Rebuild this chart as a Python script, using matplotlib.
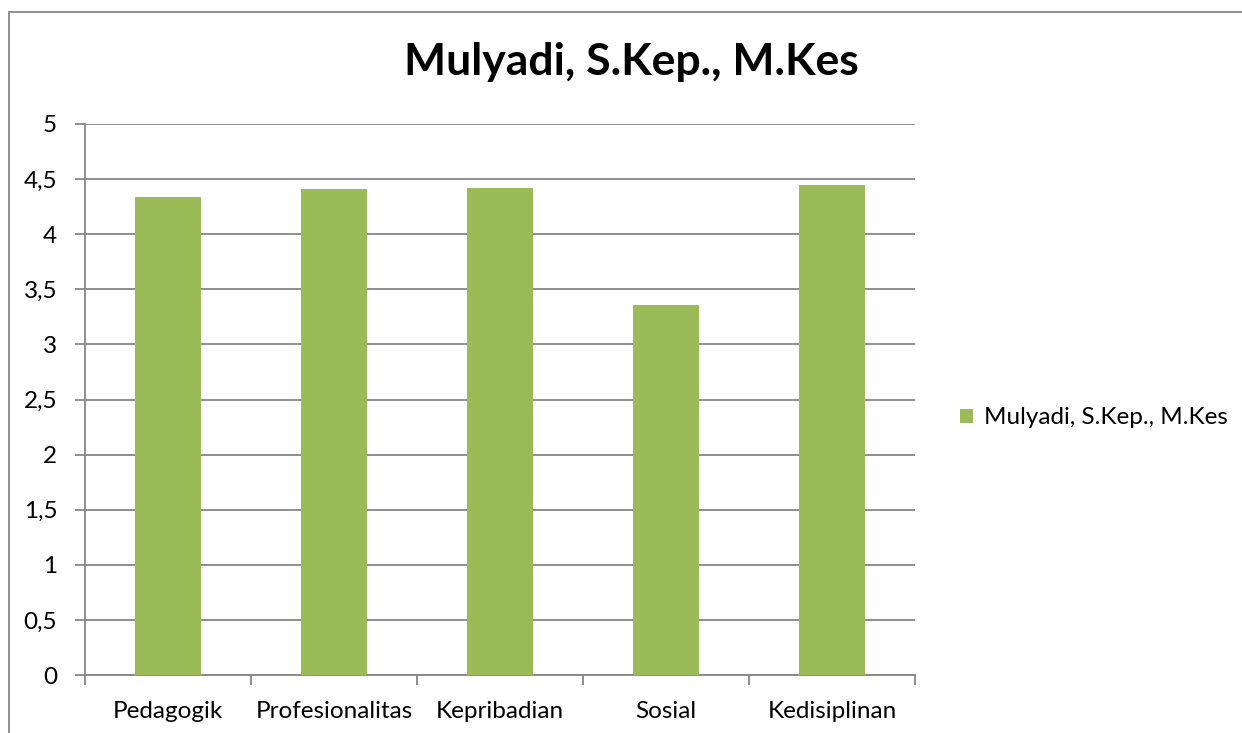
import matplotlib.pyplot as plt
from matplotlib.patches import Rectangle

# data
categories = ['Pedagogik', 'Profesionalitas', 'Kepribadian', 'Sosial', 'Kedisiplinan']
scores = [4.34, 4.41, 4.415, 3.36, 4.445]
series_name = 'Mulyadi, S.Kep., M.Kes'
y_ticks = [0, 0.5, 1, 1.5, 2, 2.5, 3, 3.5, 4, 4.5, 5]
y_tick_labels = ['0', '0,5', '1', '1,5', '2', '2,5', '3', '3,5', '4', '4,5', '5']

BAR_COLOR = '#9BBB59'
GRID_COLOR = '#868686'

plt.rcParams['font.family'] = ['Lato', 'DejaVu Sans']


def main():
    fig = plt.figure(figsize=(12.42, 7.33), dpi=100)
    ax = fig.add_axes([85 / 1242, 58 / 733, 830 / 1242, 551 / 733])

    x = list(range(len(categories)))
    ax.bar(x, scores, width=0.4, color=BAR_COLOR, zorder=3, label=series_name)

    ax.set_xlim(-0.5, len(categories) - 0.5)
    ax.set_ylim(0, 5)
    ax.set_yticks(y_ticks)
    ax.set_yticklabels(y_tick_labels, fontsize=17.5)
    ax.yaxis.grid(True, color=GRID_COLOR, linewidth=1.3, zorder=0)

    # category labels at centers, tick marks at the boundaries
    ax.set_xticks(x)
    ax.set_xticklabels(categories, fontsize=17.5)
    ax.tick_params(axis='x', which='major', length=0, pad=19)
    ax.set_xticks([i - 0.5 for i in range(len(categories) + 1)], minor=True)
    ax.tick_params(axis='x', which='minor', length=7, width=1.3, color=GRID_COLOR, direction='out')
    ax.tick_params(axis='y', length=7, width=1.3, color=GRID_COLOR, direction='out', pad=13)

    for side in ['top', 'right']:
        ax.spines[side].set_visible(False)
    for side in ['left', 'bottom']:
        ax.spines[side].set_color(GRID_COLOR)
        ax.spines[side].set_linewidth(1.3)

    fig.text(0.508, 0.915, series_name, ha='center', va='center',
             fontsize=32, fontweight='bold')

    fig.legend(loc='center left', bbox_to_anchor=(950 / 1242, 1 - 418 / 733),
               frameon=False, fontsize=17.5, handlelength=0.55, handleheight=0.55,
               handletextpad=0.45, borderaxespad=0)

    # outer chart frame
    fig.patches.append(Rectangle((9 / 1242, -0.01), 1.2, 1 - 12 / 733 + 0.01,
                                 transform=fig.transFigure, fill=False,
                                 edgecolor=GRID_COLOR, linewidth=1.3))

    fig.savefig('out.png', dpi=100)


if __name__ == '__main__':
    main()
